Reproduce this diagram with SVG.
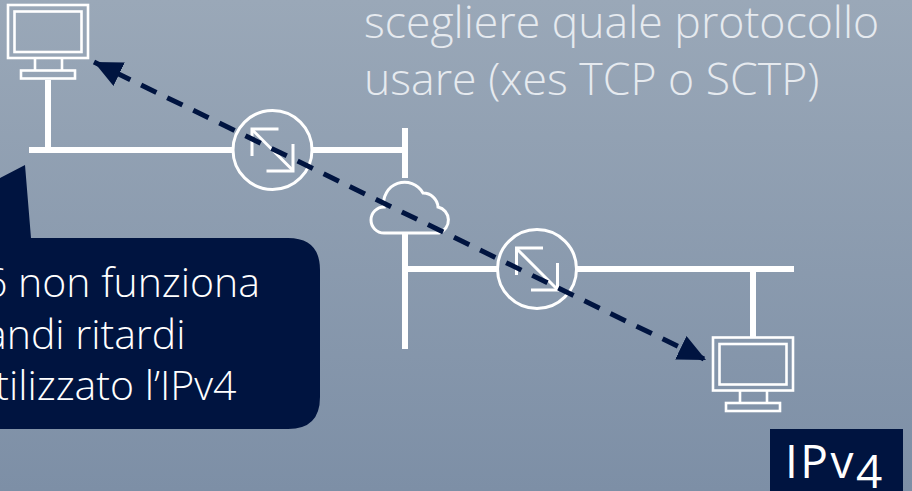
<svg xmlns="http://www.w3.org/2000/svg" width="912" height="491" viewBox="0 0 912 491">
<defs>
<linearGradient id="bg" x1="0" y1="0" x2="0" y2="1"><stop offset="0" stop-color="#9aa8b8"/><stop offset="1" stop-color="#7d8fa6"/></linearGradient>
<marker id="ah" markerUnits="userSpaceOnUse" markerWidth="28" markerHeight="26" refX="28" refY="13" orient="auto-start-reverse" viewBox="0 0 28 26"><path d="M0 0L28 13L0 26Z" fill="#001440"/></marker>
<g id="pc" fill="none" stroke="#fff" stroke-width="2.6">
<rect x="0" y="0" width="80" height="53"/>
<rect x="6.5" y="6.5" width="67" height="40.5"/>
<path d="M27 53V65.5M54 53V65.5"/>
<rect x="13" y="65.5" width="54" height="8"/>
</g>
<g id="rt" fill="none" stroke="#fff" stroke-width="3">
<circle cx="0" cy="0" r="39.5"/>
<path d="M-20 -20L20 20"/>
<path d="M-20.5 6V-21H6M20.5 -6V21H-6"/>
</g>
</defs>
<style>
.t{font-family:"Open Sans","Liberation Sans",sans-serif;font-weight:300;fill:#fff}
.l{stroke:#fff;stroke-width:6;fill:none}
</style>
<rect width="912" height="491" fill="url(#bg)"/>
<g id="top-label"><text class="t" x="364" y="38" font-size="44.6" style="fill:#e6eaef">scegliere quale protocollo</text>
<text class="t" x="364" y="95" font-size="44.6" style="fill:#e6eaef">usare (xes TCP o SCTP)</text></g>
<g id="callout"><path d="M0 178L25 165L31 238H288Q320 238 320 270V397Q320 429 288 429H0Z" fill="#001440"/>
<text class="t" x="-16" y="297" font-size="41">6 non funziona</text>
<text class="t" x="-31" y="349" font-size="41">randi ritardi</text>
<text class="t" x="-29" y="400" font-size="41">utilizzato l’IPv4</text></g>
<g id="connectors">
<path class="l" d="M48 80V150M29 150H232M312 150H405M405 128V178M405 232V349M405 269H497M576 269H794M753 269V338"/>
</g>
<g id="pc-1"><use href="#pc" x="8" y="5"/></g>
<g id="pc-2"><use href="#pc" x="713" y="337.5"/></g>
<g id="router-1"><use href="#rt" x="272.5" y="150"/></g>
<g id="router-2"><use href="#rt" x="537" y="269"/></g>
<g id="cloud"><path d="M384 233A13 13 0 0 1 384 207A21 21 0 0 1 423 193A15 15 0 0 1 438 207A13.5 13.5 0 0 1 439 233Z" fill="none" stroke="#fff" stroke-width="3"/></g>
<g id="link"><path d="M94 62L706 360" fill="none" stroke="#001440" stroke-width="5" stroke-dasharray="17 12" stroke-dashoffset="5.6" marker-start="url(#ah)" marker-end="url(#ah)"/></g>
<g id="badge"><rect x="770" y="429" width="133" height="62" fill="#001440"/><text class="t" x="785" y="478" font-size="46" letter-spacing="2.5" style="font-weight:500">IPv<tspan dy="10">4</tspan></text></g>
</svg>
